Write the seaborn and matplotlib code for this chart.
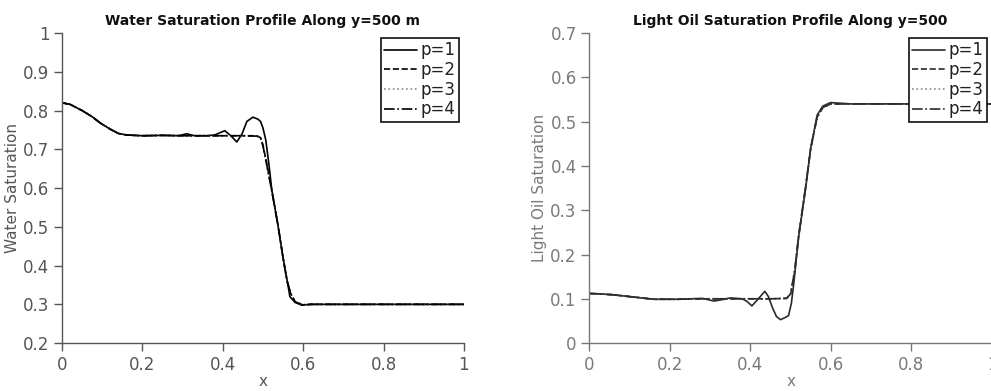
import numpy as np
import pandas as pd
import seaborn as sns
import matplotlib
matplotlib.use("Agg")
import matplotlib.pyplot as plt

# ---------------- data ----------------
series_labels = ["p=1", "p=2", "p=3", "p=4"]

# Water saturation along y=500 m
xw_p1 = [0, 0.02, 0.05, 0.075, 0.095, 0.12, 0.14, 0.16, 0.2, 0.25, 0.29, 0.31, 0.33, 0.36,
         0.38, 0.405, 0.42, 0.435, 0.448, 0.46, 0.475, 0.487, 0.494, 0.50, 0.507, 0.515,
         0.522, 0.538, 0.55, 0.56, 0.567, 0.58, 0.596, 0.62, 0.7, 0.8, 0.9, 1.0]
yw_p1 = [0.82, 0.816, 0.80, 0.784, 0.768, 0.752, 0.741, 0.737, 0.735, 0.736, 0.735, 0.740,
         0.735, 0.735, 0.737, 0.748, 0.735, 0.719, 0.74, 0.772, 0.783, 0.778, 0.772, 0.755,
         0.724, 0.66, 0.595, 0.50, 0.42, 0.363, 0.32, 0.305, 0.298, 0.300, 0.300, 0.300,
         0.300, 0.300]
xw_p2 = [0, 0.02, 0.05, 0.075, 0.095, 0.12, 0.14, 0.16, 0.2, 0.25, 0.3, 0.35, 0.4, 0.45,
         0.485, 0.494, 0.5, 0.51, 0.522, 0.538, 0.55, 0.56, 0.57, 0.58, 0.6, 0.62, 0.7, 0.8,
         0.9, 1.0]
yw_p2 = [0.82, 0.816, 0.80, 0.784, 0.768, 0.752, 0.741, 0.737, 0.735, 0.736, 0.735, 0.735,
         0.735, 0.735, 0.735, 0.730, 0.711, 0.66, 0.595, 0.50, 0.42, 0.36, 0.325, 0.307,
         0.298, 0.300, 0.300, 0.300, 0.300, 0.300]
yw_p3 = [0.82, 0.816, 0.80, 0.784, 0.768, 0.752, 0.741, 0.737, 0.735, 0.736, 0.735, 0.735,
         0.735, 0.735, 0.734, 0.728, 0.708, 0.655, 0.59, 0.50, 0.42, 0.36, 0.325, 0.307,
         0.299, 0.300, 0.300, 0.300, 0.300, 0.300]
yw_p4 = [0.82, 0.816, 0.80, 0.784, 0.768, 0.752, 0.741, 0.737, 0.735, 0.736, 0.735, 0.735,
         0.735, 0.735, 0.734, 0.729, 0.709, 0.657, 0.592, 0.50, 0.42, 0.36, 0.326, 0.306,
         0.299, 0.300, 0.300, 0.300, 0.300, 0.300]

# Light oil saturation along y=500
xo_p1 = [0, 0.03, 0.06, 0.1, 0.16, 0.22, 0.28, 0.31, 0.33, 0.35, 0.38, 0.392, 0.404, 0.42,
         0.436, 0.445, 0.455, 0.465, 0.475, 0.485, 0.495, 0.502, 0.508, 0.52, 0.537, 0.55,
         0.566, 0.58, 0.599, 0.65, 0.7, 0.8, 0.9, 1.0]
yo_p1 = [0.112, 0.111, 0.109, 0.105, 0.099, 0.099, 0.101, 0.095, 0.098, 0.102, 0.100, 0.094,
         0.084, 0.100, 0.117, 0.105, 0.08, 0.06, 0.053, 0.057, 0.062, 0.09, 0.135, 0.24,
         0.346, 0.44, 0.515, 0.535, 0.543, 0.540, 0.540, 0.540, 0.540, 0.540]
xo_p2 = [0, 0.03, 0.06, 0.1, 0.16, 0.22, 0.28, 0.34, 0.4, 0.45, 0.49, 0.5, 0.51, 0.52, 0.537,
         0.55, 0.566, 0.58, 0.6, 0.65, 0.7, 0.8, 0.9, 1.0]
yo_p2 = [0.112, 0.111, 0.109, 0.105, 0.099, 0.099, 0.100, 0.100, 0.100, 0.100, 0.101, 0.11,
         0.16, 0.24, 0.35, 0.44, 0.51, 0.532, 0.540, 0.540, 0.540, 0.540, 0.540, 0.540]
yo_p3 = [0.112, 0.111, 0.109, 0.105, 0.099, 0.099, 0.100, 0.100, 0.100, 0.100, 0.101, 0.112,
         0.165, 0.245, 0.352, 0.44, 0.51, 0.532, 0.540, 0.540, 0.540, 0.540, 0.540, 0.540]
yo_p4 = [0.112, 0.111, 0.109, 0.105, 0.099, 0.099, 0.100, 0.100, 0.100, 0.100, 0.101, 0.111,
         0.162, 0.242, 0.351, 0.44, 0.51, 0.532, 0.540, 0.540, 0.540, 0.540, 0.540, 0.540]

xticks = [0, 0.2, 0.4, 0.6, 0.8, 1]
xticklabels = ["0", "0.2", "0.4", "0.6", "0.8", "1"]
w_yticks = [0.2, 0.3, 0.4, 0.5, 0.6, 0.7, 0.8, 0.9, 1.0]
w_yticklabels = ["0.2", "0.3", "0.4", "0.5", "0.6", "0.7", "0.8", "0.9", "1"]
o_yticks = [0, 0.1, 0.2, 0.3, 0.4, 0.5, 0.6, 0.7]
o_yticklabels = ["0", "0.1", "0.2", "0.3", "0.4", "0.5", "0.6", "0.7"]

# ---------------- style ----------------
sns.set_style("ticks")
plt.rcParams["font.family"] = ["DejaVu Sans"]

fig = plt.figure(figsize=(9.91, 3.91), dpi=100)
ax1 = fig.add_axes([0.0626, 0.1225, 0.4055, 0.793])
ax2 = fig.add_axes([0.5945, 0.1225, 0.4065, 0.793])

styles = ["-", "--", ":", "-."]

def draw(ax, xs_list, ys_list, color, title, ylabel, yticks, yticklabels, ylim, textcol, spinecol):
    for (xs, ys), lab, ls in zip(zip(xs_list, ys_list), series_labels, styles):
        df = pd.DataFrame({"x": xs, "y": ys})
        sns.lineplot(data=df, x="x", y="y", ax=ax, color=color if ls != ":" else "#888888",
                     linestyle=ls, linewidth=1.2, label=lab, sort=False)
    ax.set_xlim(0, 1)
    ax.set_ylim(*ylim)
    ax.set_xticks(xticks)
    ax.set_xticklabels(xticklabels)
    ax.set_yticks(yticks)
    ax.set_yticklabels(yticklabels)
    ax.tick_params(axis="both", labelsize=12, colors=spinecol, labelcolor=textcol,
                   length=6, width=1.0, pad=3)
    for s in ["top", "right"]:
        ax.spines[s].set_visible(False)
    for s in ["left", "bottom"]:
        ax.spines[s].set_color(spinecol)
        ax.spines[s].set_linewidth(1.0)
    ax.set_title(title, fontsize=10, fontweight="bold", color="#111111", pad=6)
    ax.set_xlabel("x", fontsize=11, color=textcol, labelpad=0)
    ax.set_ylabel(ylabel, fontsize=11, color=textcol, labelpad=2)
    leg = ax.legend(loc="upper right", bbox_to_anchor=(1.0, 1.0), fontsize=12,
                    frameon=True, fancybox=False, handlelength=2.0, handletextpad=0.2,
                    borderpad=0.2, labelspacing=0.1, borderaxespad=0.3)
    leg.get_frame().set_edgecolor("#111111")
    leg.get_frame().set_linewidth(1.2)
    leg.get_frame().set_alpha(1.0)
    for t in leg.get_texts():
        t.set_color("#222222")

draw(ax1, [xw_p1, xw_p2, xw_p2, xw_p2], [yw_p1, yw_p2, yw_p3, yw_p4], "#000000",
     "Water Saturation Profile Along y=500 m", "Water Saturation",
     w_yticks, w_yticklabels, (0.2, 1.0), "#555555", "#555555")
draw(ax2, [xo_p1, xo_p2, xo_p2, xo_p2], [yo_p1, yo_p2, yo_p3, yo_p4], "#2a2a2a",
     "Light Oil Saturation Profile Along y=500", "Light Oil Saturation",
     o_yticks, o_yticklabels, (0.0, 0.7), "#7a7a7a", "#777777")

fig.savefig("out.png", dpi=100)
